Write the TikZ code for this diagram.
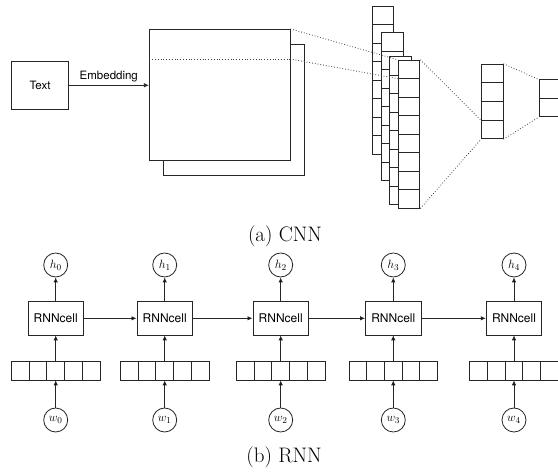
\documentclass[tikz,border=0pt]{standalone}
\usepackage{fontspec}
\setsansfont{TeX Gyre Heros}
\usetikzlibrary{arrows.meta, shapes.multipart}
\tikzset{
  >={Latex[length=5pt,width=4.5pt]},
  box/.style={draw=black!85, font=\sffamily\fontsize{11.5}{13}\selectfont},
  sheet/.style={draw=black!85, fill=white, minimum width=140.7pt, minimum height=130.7pt},
  column/.style={rectangle split, rectangle split parts=#1, draw=black!85, fill=white,
    inner sep=0pt, rectangle split empty part width=17.4pt,
    rectangle split empty part height=17.7pt, rectangle split empty part depth=0pt},
  cell/.style={draw=black!85, minimum width=55.6pt, minimum height=33.3pt,
    font=\sffamily\fontsize{12}{14}\selectfont},
  io/.style={circle, draw=black!85, minimum size=24pt, inner sep=0pt,
    font=\fontsize{13}{15}\selectfont},
  vec/.style={draw=black!85, minimum width=88.5pt, minimum height=18.3pt, inner sep=0pt,
    path picture={
      \foreach \k in {1,...,4}
        \draw[black!85] ([xshift=\k*17.7pt]path picture bounding box.north west)
                     -- ([xshift=\k*17.7pt]path picture bounding box.south west);
    }},
  link/.style={dotted, draw=black!75},
  caption/.style={font=\fontsize{21}{25}\selectfont},
}
\begin{document}
\begin{tikzpicture}[x=1pt, y=-1pt, line width=0.8pt]
  \useasboundingbox (0,0) rectangle (558,473);

  % (a) CNN
  \node[box, minimum width=56.6pt, minimum height=47.3pt] (txt) at (40,85.3) {Text};
  \node[sheet] (embback) at (233.65,110)  {};
  \node[sheet] (emb)     at (219.65,94.65) {};
  \coordinate (winl) at (149.3,59);
  \coordinate (winr) at (290,59);
  \draw[link] (winl) -- (winr);
  \draw[->, black!85] (txt.east) -- node[above, font=\sffamily\fontsize{11.5}{13}\selectfont, black]{Embedding} (txt.east -| emb.west);

  \node[column=8] (conv1) at (383,80)      {};
  \node[column=8] (conv2) at (392.65,106.65) {};
  \node[column=8] (conv3) at (400.5,130.85)  {};
  \node[column=8] (conv4) at (409,134.15)    {};
  \node[column=4, rectangle split empty part height=17.9pt] (pool) at (492.2,101.5) {};
  \node[column=2, rectangle split empty part height=17.65pt] (fc) at (549.9,98.35) {};

  \draw[link] (emb.north east) -- (conv4.north west)
              (winr) -- (conv4.text split west)
              (conv4.north east) -- (pool.three split west)
              (conv4.south east) -- (pool.south west)
              (pool.north east) -- (fc.north west)
              (pool.south east) -- (fc.south west);

  \node[caption] (capa) at (285,236) {(a) CNN};

  % (b) RNN
  \node[io]   (h0)   at (55.7,265)  {$h_0$};
  \node[io]   (h1)   at (164.7,265) {$h_1$};
  \node[io]   (h2)   at (280.7,265) {$h_2$};
  \node[io]   (h3)   at (393.3,265) {$h_3$};
  \node[io]   (h4)   at (514,265)   {$h_4$};

  \node[cell] (rnn0) at (55.7,318.3)  {RNNcell};
  \node[cell] (rnn1) at (164.7,318.3) {RNNcell};
  \node[cell] (rnn2) at (280.7,318.3) {RNNcell};
  \node[cell] (rnn3) at (393.3,318.3) {RNNcell};
  \node[cell] (rnn4) at (514,318.3)   {RNNcell};

  \node[vec]  (vec0) at (55.7,370.8)  {};
  \node[vec]  (vec1) at (164.7,370.8) {};
  \node[vec]  (vec2) at (280.7,370.8) {};
  \node[vec]  (vec3) at (393.3,370.8) {};
  \node[vec]  (vec4) at (514,370.8)   {};

  \node[io]   (w0)   at (55.7,420)  {$w_0$};
  \node[io]   (w1)   at (164.7,420) {$w_1$};
  \node[io]   (w2)   at (280.7,420) {$w_2$};
  \node[io]   (w3)   at (393.3,420) {$w_3$};
  \node[io]   (w4)   at (514,420)   {$w_4$};

  \path[->, draw=black!85]
        (w0) edge (vec0)  (vec0) edge (rnn0)  (rnn0) edge (h0)  (rnn0) edge (rnn1)
        (w1) edge (vec1)  (vec1) edge (rnn1)  (rnn1) edge (h1)  (rnn1) edge (rnn2)
        (w2) edge (vec2)  (vec2) edge (rnn2)  (rnn2) edge (h2)  (rnn2) edge (rnn3)
        (w3) edge (vec3)  (vec3) edge (rnn3)  (rnn3) edge (h3)  (rnn3) edge (rnn4)
        (w4) edge (vec4)  (vec4) edge (rnn4)  (rnn4) edge (h4);

  \node[caption] (capb) at (284,457) {(b) RNN};
\end{tikzpicture}
\end{document}
